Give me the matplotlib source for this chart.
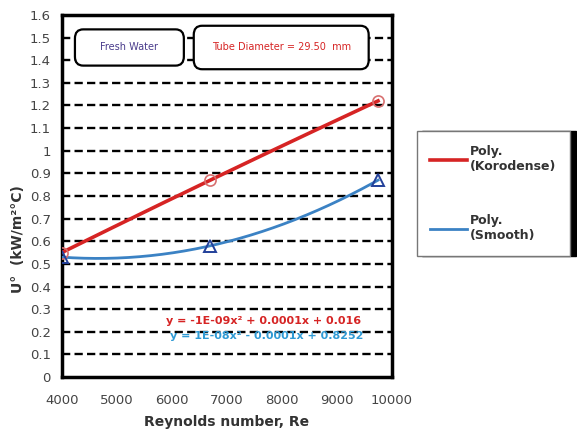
import numpy as np
import matplotlib.pyplot as plt
from matplotlib.patches import FancyBboxPatch

# Measured points (Reynolds number vs overall coefficient)
re_koro = [4000, 6700, 9750]
u_koro = [0.55, 0.87, 1.22]
re_smooth = [4000, 6700, 9750]
u_smooth = [0.53, 0.58, 0.87]

xticks = [4000, 5000, 6000, 7000, 8000, 9000, 10000]
yticks = [0, 0.1, 0.2, 0.3, 0.4, 0.5, 0.6, 0.7, 0.8, 0.9, 1, 1.1, 1.2, 1.3, 1.4, 1.5, 1.6]

eq_koro = "y = -1E-09x² + 0.0001x + 0.016"
eq_smooth = "y = 1E-08x² - 0.0001x + 0.8252"

red = "#d62424"
blue = "#3b82c4"

fig = plt.figure(figsize=(5.77, 4.38), dpi=100)
ax = fig.add_axes([0.107, 0.139, 0.572, 0.827])

# dashed horizontal grid
for yv in yticks[1:-1]:
    ax.axhline(yv, color="black", lw=1.7, ls=(0, (3.5, 1.8)), zorder=1)

# second-order trendlines
xs = np.linspace(4000, 9750, 200)
pk = np.polyfit(re_koro, u_koro, 2)
ps = np.polyfit(re_smooth, u_smooth, 2)
ax.plot(xs, np.polyval(pk, xs), color=red, lw=2.6, zorder=3, label="Poly.\n(Korodense)")
ax.plot(xs, np.polyval(ps, xs), color=blue, lw=2.0, zorder=3, label="Poly.\n(Smooth)")

ax.plot(re_koro, u_koro, "o", mfc="none", mec="#d87070", ms=8, mew=1.2, zorder=4)
ax.plot(re_smooth, u_smooth, "^", mfc="none", mec="#23409a", ms=8, mew=1.4, zorder=4)

ax.set_xlim(4000, 10000)
ax.set_ylim(0, 1.6)
ax.set_xticks(xticks)
ax.set_xticklabels([str(v) for v in xticks])
ax.set_yticks(yticks)
ax.set_yticklabels([f"{v:g}" for v in yticks])
ax.tick_params(length=0, labelsize=9.5, colors="#444444", pad=8)
ax.tick_params(axis="x", pad=12)
for s in ax.spines.values():
    s.set_linewidth(2.5)

ax.set_xlabel("Reynolds number, Re", fontsize=10, fontweight="bold", color="#333333", labelpad=6)
ax.set_ylabel("U°  (kW/m²°C)", fontsize=10, fontweight="bold", color="#333333", labelpad=2)
ax.yaxis.set_label_coords(-0.11, 0.38)

# annotation boxes
for (x0, y0, w, h), txt, col in [((0.04, 0.86, 0.33, 0.1), "Fresh Water", "#4a3c8c"),
                                  ((0.40, 0.85, 0.53, 0.12), "Tube Diameter = 29.50  mm", red)]:
    box = FancyBboxPatch((x0, y0), w, h, boxstyle="round,pad=0,rounding_size=0.025",
                         transform=ax.transAxes, fc="white", ec="black", lw=1.6, zorder=5)
    ax.add_patch(box)
    ax.text(x0 + w / 2, y0 + h / 2, txt, transform=ax.transAxes, ha="center", va="center",
            fontsize=7, color=col, zorder=6)

ax.text(0.61, 0.155, eq_koro, transform=ax.transAxes, ha="center", va="center",
        fontsize=8, fontweight="bold", color=red, zorder=6)
ax.text(0.62, 0.113, eq_smooth, transform=ax.transAxes, ha="center", va="center",
        fontsize=8, fontweight="bold", color="#2f9ad4", zorder=6)

leg = fig.legend(loc="upper left", bbox_to_anchor=(0.722, 0.70),
                 prop={"weight": "bold", "size": 9}, frameon=True, fancybox=False,
                 edgecolor="#777777", handlelength=2.9, labelspacing=3.3,
                 borderpad=1.1, handletextpad=0.3, borderaxespad=0,
                 shadow={"ox": 4, "oy": 0, "color": "black", "alpha": 1})
for t in leg.get_texts():
    t.set_color("#333333")

fig.savefig("out.png", dpi=100)
